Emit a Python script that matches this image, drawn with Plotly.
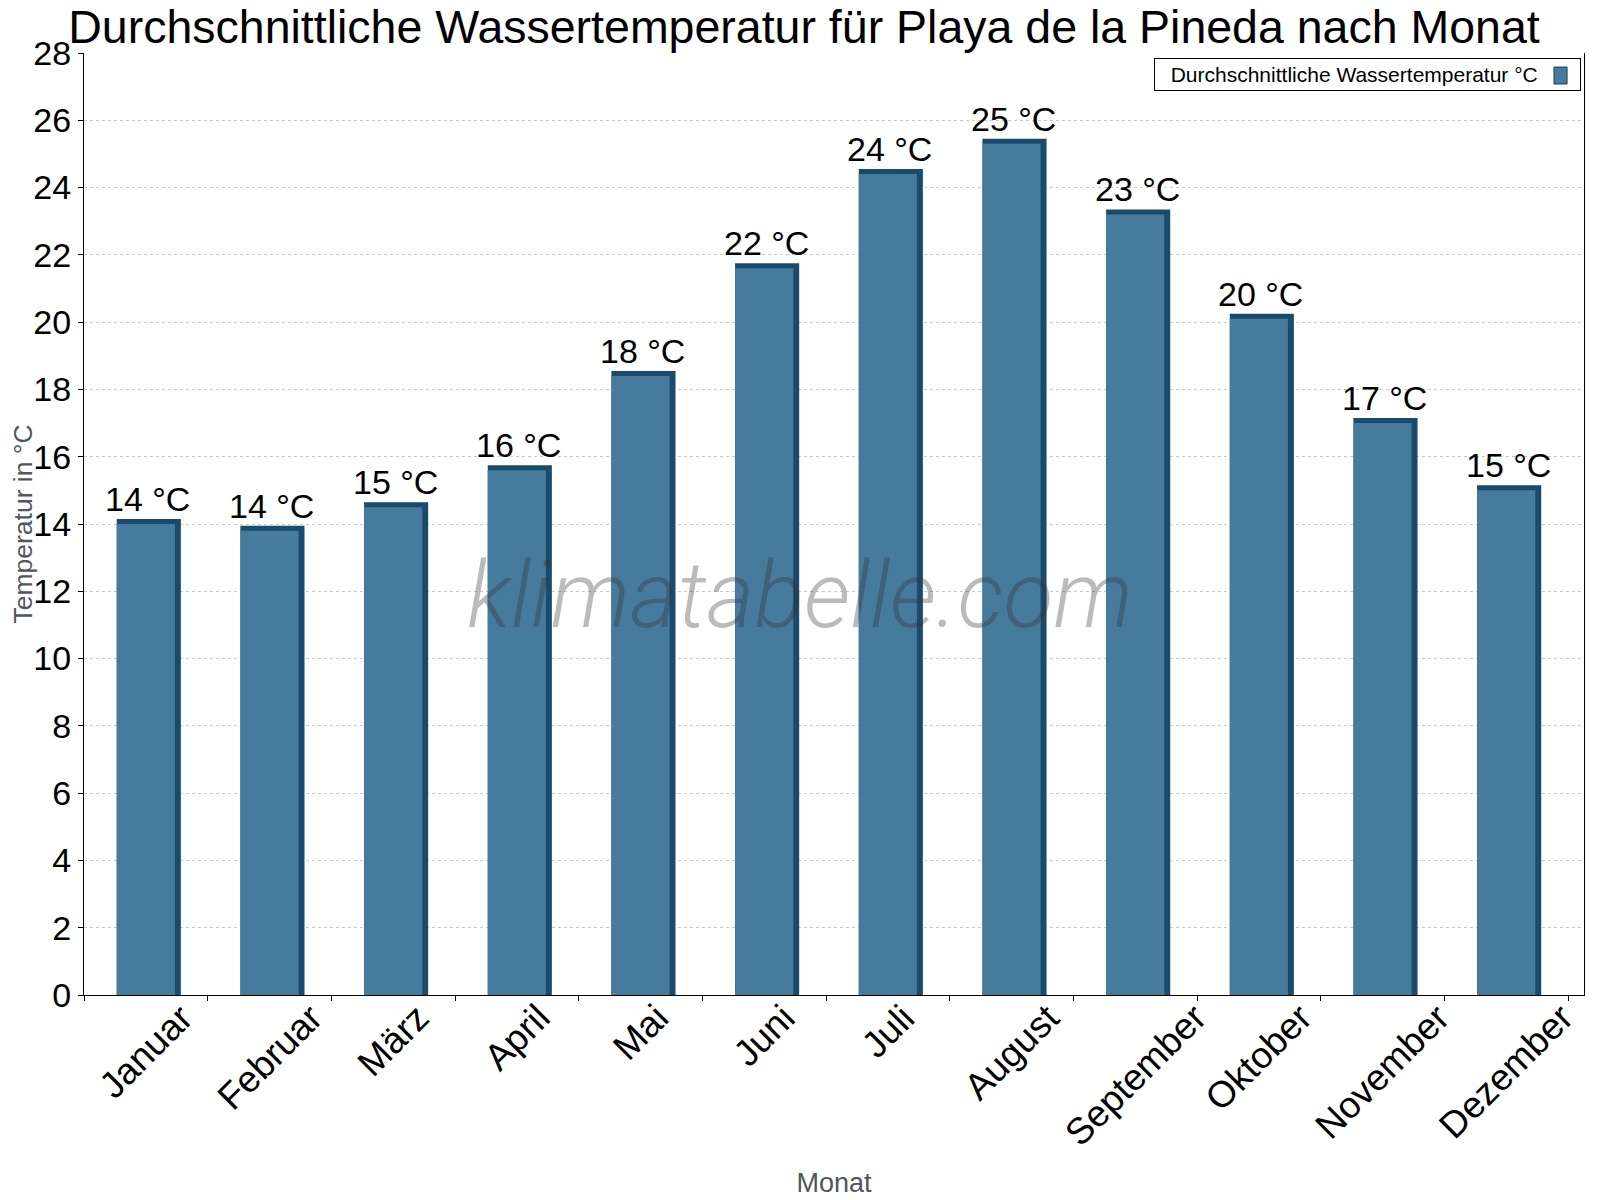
import plotly.graph_objects as go

# Daten
months = ["Januar", "Februar", "März", "April", "Mai", "Juni", "Juli",
          "August", "September", "Oktober", "November", "Dezember"]
water_temp = [14.0, 13.8, 14.5, 15.6, 18.4, 21.6, 24.4, 25.3, 23.2, 20.1, 17.0, 15.0]
y_ticks = list(range(0, 29, 2))

bar_face = "#467b9e"
bar_side = "#1a4b6d"
font_main = "Liberation Sans, Arial, sans-serif"
series_name = "Durchschnittliche Wassertemperatur °C"

labels = ["%d °C" % int(v + 0.5) for v in water_temp]

# dunkle "Tiefe" hinter dem Balken (3D-Effekt)
side = go.Bar(
    x=months, y=water_temp,
    width=0.4376, offset=-0.195,
    marker=dict(color=bar_side, line=dict(color=bar_side, width=10)),
    hoverinfo="skip", showlegend=False,
)
face = go.Bar(
    x=months, y=water_temp,
    width=0.47, offset=-0.235,
    marker=dict(color=bar_face, line=dict(width=0)),
    name=series_name, showlegend=False,
)

annotations = []
for m, v, t in zip(months, water_temp, labels):
    annotations.append(dict(
        x=m, y=v, xref="x", yref="y", text=t, showarrow=False,
        xanchor="center", yanchor="bottom", xshift=2, yshift=4,
        font=dict(family=font_main, size=34, color="black"),
    ))
for m in months:
    annotations.append(dict(
        x=m, y=0, xref="x", yref="paper", text=m, showarrow=False,
        textangle=-45, xanchor="center", yanchor="top", yshift=1,
        font=dict(family=font_main, size=37, color="black"),
    ))

# Wasserzeichen
annotations.append(dict(
    x=0.4773, y=0.4245, xref="paper", yref="paper", text="klimatabelle.com",
    showarrow=False, xanchor="center", yanchor="middle",
    font=dict(family="Roboto, sans-serif", size=92, color="rgba(50,50,50,0.33)",
              style="italic", weight=300),
))

# Legende (Symbol rechts vom Text)
annotations.append(dict(
    x=0.7133, y=0.9947, xref="paper", yref="paper",
    text="\u00a0\u00a0" + series_name, showarrow=False,
    xanchor="left", yanchor="top", align="left", width=417,
    bordercolor="black", borderwidth=1, borderpad=4, bgcolor="rgba(0,0,0,0)",
    font=dict(family=font_main, size=21, color="black"),
))

# Seite hat 8px Rand -> Figur etwas kleiner
fig = go.Figure(data=[side, face])
fig.update_layout(
    width=1592, height=1192,
    margin=dict(l=76, r=16, t=45, b=205),
    paper_bgcolor="white", plot_bgcolor="white",
    barmode="overlay", showlegend=False,
    title=dict(
        text="Durchschnittliche Wassertemperatur für Playa de la Pineda nach Monat",
        x=0.5, xref="container", xanchor="center",
        y=0.9843, yref="container", yanchor="middle",
        font=dict(family=font_main, size=46.5, color="black"),
    ),
    annotations=annotations,
    shapes=[dict(
        type="rect", xref="paper", yref="paper", layer="above",
        x0=0.98, x1=0.9887, y0=0.9671, y1=0.9851,
        fillcolor=bar_face, line=dict(color="#1b3a50", width=1),
    )],
)
fig.update_yaxes(
    range=[0, 28], tickvals=y_ticks, automargin=False,
    ticks="outside", ticklen=5, tickcolor="black",
    showline=True, linecolor="black", mirror=True,
    showgrid=True, gridcolor="#c8c8c8", griddash="dot", zeroline=False,
    tickfont=dict(family=font_main, size=34, color="black"),
    title=dict(text="Temperatur in °C", standoff=4,
               font=dict(family=font_main, size=26.5, color="#50565c")),
)
fig.update_xaxes(
    type="category", showline=True, linecolor="black", automargin=False,
    ticks="outside", tickson="boundaries", ticklen=5, tickcolor="black",
    showticklabels=False, showgrid=False,
    title=dict(text="Monat", standoff=178,
               font=dict(family=font_main, size=27, color="#50565c")),
)

fig.write_html("out.html")
